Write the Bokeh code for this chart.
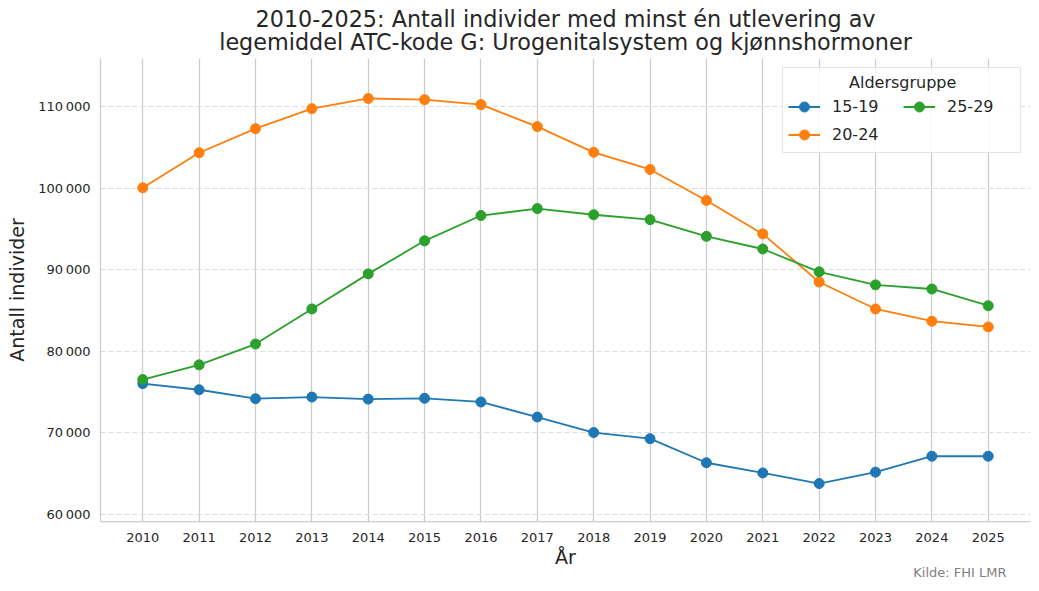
from bokeh.plotting import figure
from bokeh.models import (FixedTicker, CustomJSTickFormatter, Title, Legend, LegendItem, Range1d)
from bokeh.embed import file_html
from bokeh.resources import INLINE

years = list(range(2010, 2026))
group_labels = ["15-19", "20-24", "25-29"]
vals_15_19 = [76050, 75300, 74200, 74400, 74150, 74250, 73800, 71950, 70050, 69300, 66350, 65100, 63800, 65200, 67150, 67150]
vals_20_24 = [100050, 104350, 107300, 109750, 111000, 110850, 110250, 107550, 104400, 102300, 98500, 94400, 88500, 85200, 83700, 83000]
vals_25_29 = [76550, 78350, 80900, 85200, 89500, 93550, 96650, 97500, 96750, 96150, 94100, 92550, 89750, 88150, 87650, 85600]
y_ticks = [60000, 70000, 80000, 90000, 100000, 110000]
colors = ["#1f77b4", "#ff7f0e", "#2ca02c"]

FONT = "DejaVu Sans"
TXT = "#262626"

p = figure(frame_width=930, frame_height=463, output_backend="svg", toolbar_location=None,
           x_range=Range1d(2009.25, 2025.75), y_range=Range1d(59150, 115900),
           min_border_left=100, min_border_right=1, min_border_top=58, min_border_bottom=62)
p.title = None

# Titles (inner line first)
p.add_layout(Title(text="legemiddel ATC-kode G: Urogenitalsystem og kjønnshormoner", align="center",
                   text_font=FONT, text_font_size="22.3px", text_font_style="normal",
                   text_color=TXT, standoff=7, offset=0), "above")
p.add_layout(Title(text="2010-2025: Antall individer med minst én utlevering av", align="center",
                   text_font=FONT, text_font_size="22.3px", text_font_style="normal",
                   text_color=TXT, standoff=-16, offset=0), "above")

items = []
for vals, lab, col in zip([vals_15_19, vals_20_24, vals_25_29], group_labels, colors):
    r1 = p.line(years, vals, line_color=col, line_width=1.8)
    r2 = p.scatter(years, vals, size=10, fill_color=col, line_color=col)
    items.append(LegendItem(label=lab, renderers=[r1, r2]))

legend = Legend(items=items, ncols=2, location="top_right",
                title="\u00a0" * 12 + "Aldersgruppe", title_text_font=FONT, title_text_font_size="16px",
                title_text_color=TXT, title_text_font_style="normal",
                label_text_font=FONT, label_text_font_size="16px", label_text_color=TXT,
                border_line_color="#cccccc", border_line_width=1, background_fill_alpha=0.85,
                glyph_width=32, glyph_height=25, label_standoff=12, label_width=68, spacing=3,
                padding=5, margin=9, title_standoff=2)
p.add_layout(legend)

p.xaxis.ticker = FixedTicker(ticks=years)
p.yaxis.ticker = FixedTicker(ticks=y_ticks)
p.yaxis.formatter = CustomJSTickFormatter(code="""
    return Math.round(tick).toString().replace(/\\B(?=(\\d{3})+(?!\\d))/g, "\\u202f");
""")

for ax in [p.xaxis[0], p.yaxis[0]]:
    ax.major_tick_line_color = None
    ax.minor_tick_line_color = None
    ax.major_tick_out = 0
    ax.major_tick_in = 0
    ax.minor_tick_out = 0
    ax.minor_tick_in = 0
    ax.axis_line_color = "#cccccc"
    ax.axis_line_width = 1.25
    ax.major_label_text_font = FONT
    ax.major_label_text_font_size = "13px"
    ax.major_label_text_color = TXT
    ax.axis_label_text_font = FONT
    ax.axis_label_text_font_size = "19px"
    ax.axis_label_text_font_style = "normal"
    ax.axis_label_text_color = TXT

p.xaxis.axis_label = "År"
p.yaxis.axis_label = "Antall individer"
p.xaxis.major_label_standoff = 11
p.yaxis.major_label_standoff = 10
p.xaxis.axis_label_standoff = 1
p.yaxis.axis_label_standoff = 7

p.xgrid.grid_line_color = "#cccccc"
p.xgrid.grid_line_width = 1.25
p.ygrid.grid_line_color = "#dddddd"
p.ygrid.grid_line_dash = "5 3"
p.ygrid.grid_line_width = 1

p.outline_line_color = None

p.add_layout(Title(text="Kilde: FHI LMR", align="right", text_font=FONT, text_font_size="13px",
                   text_font_style="normal", text_color="#808080", offset=24, standoff=-16), "below")

open("out.html", "w").write(file_html(p, INLINE))
